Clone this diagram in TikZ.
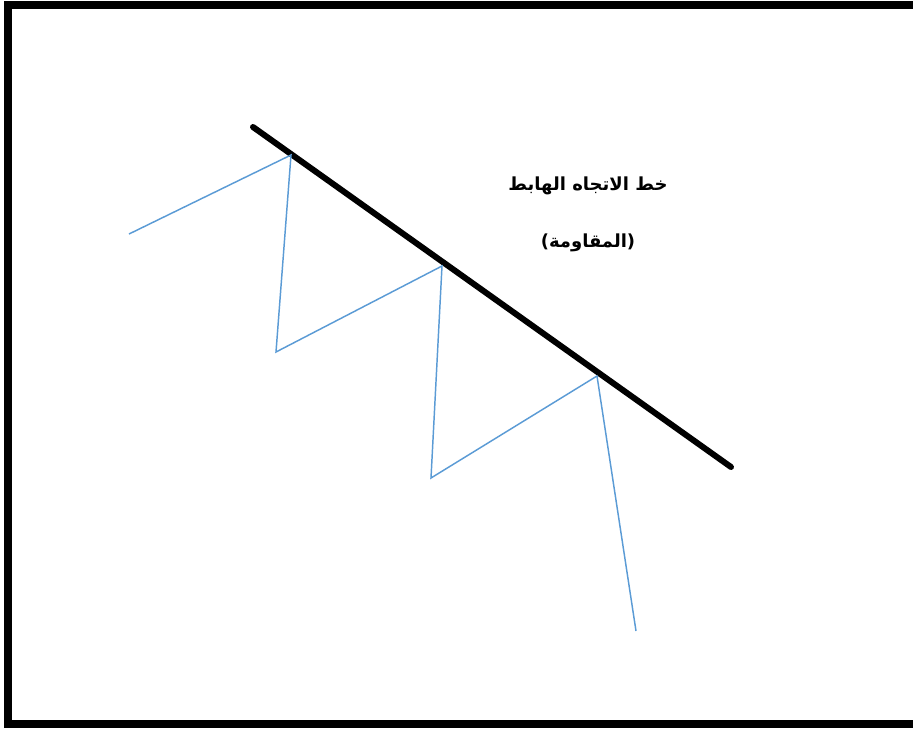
\documentclass[tikz,border=0pt]{standalone}
\usepackage{fontspec}
\newfontfamily\arabicfont[Script=Arabic]{DejaVu Sans}
\TeXXeTstate=1
\begin{document}
\begin{tikzpicture}[x=0.75pt,y=-0.75pt,
  frame/.style={line width=6pt, line join=miter},
  trendline/.style={line width=4.5pt, line cap=round},
  price/.style={draw={rgb,255:red,91;green,155;blue,213}, line width=1.1pt},
  lbl/.style={font=\arabicfont\bfseries\fontsize{13.5}{16}\selectfont, inner sep=0pt}]
\useasboundingbox (0,0) rectangle (913,729);
\draw[frame] (913,4.5) -- (8,4.5) -- (8,724) -- (913,724);
\coordinate (t1) at (253,127);
\coordinate (t2) at (731,467);
\draw[trendline] (t1) -- (t2);
\coordinate (p0) at (129,234);
\coordinate (p1) at (291,155);
\coordinate (p2) at (276,352);
\coordinate (p3) at (442,266);
\coordinate (p4) at (431,478);
\coordinate (p5) at (597,376);
\coordinate (p6) at (636,631);
\draw[price] (p0) -- (p1) -- (p2) -- (p3) -- (p4) -- (p5) -- (p6);
\node[lbl] (l1) at (588,186) {\beginR خط الاتجاه الهابط\endR};
\node[lbl] (l2) at (588,243) {\beginR (المقاومة)\endR};
\end{tikzpicture}
\end{document}
